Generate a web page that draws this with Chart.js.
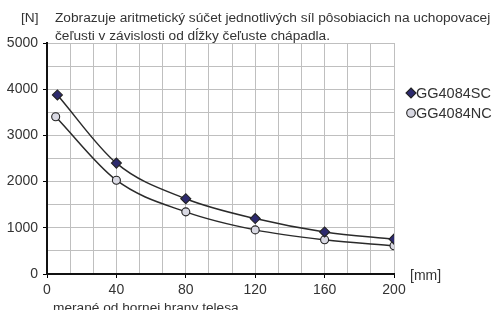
<!DOCTYPE html>
<html>
<head>
<meta charset="utf-8">
<script src="https://cdn.jsdelivr.net/npm/chart.js@4"></script>
<style>
  html, body { margin: 0; padding: 0; background: #fff; }
  #wrap { width: 497px; height: 310px; }
</style>
</head>
<body>
<div id="wrap"><canvas id="myChart" width="497" height="310"></canvas></div>
<script>
const scX = [6, 40, 80, 120, 160, 200];
const scValues = [3875, 2400, 1630, 1200, 910, 755];
const ncX = [5, 40, 80, 120, 160, 200];
const ncValues = [3405, 2030, 1345, 955, 740, 610];
const xTickLabels = [0, 40, 80, 120, 160, 200];
const yTickLabels = [0, 1000, 2000, 3000, 4000, 5000];
const seriesNames = ['GG4084SC', 'GG4084NC'];

const titleLines = [
    'Zobrazuje aritmetický súčet jednotlivých síl pôsobiacich na uchopovacej',
    'čeľusti v závislosti od dĺžky čeľuste chápadla.'
];

const FONT = '"Liberation Sans", Arial, sans-serif';
const TEXT = '#333';

function isLabel(list, v) {
    return list.some(t => Math.abs(t - v) < 1e-6);
}

const textPlugin = {
    id: 'texts',
    afterDraw(chart) {
        const ctx = chart.ctx;
        const a = chart.chartArea;
        ctx.save();
        ctx.fillStyle = TEXT;
        ctx.font = '13.7px ' + FONT;
        ctx.textBaseline = 'alphabetic';
        ctx.textAlign = 'left';
        ctx.fillText('[N]', 21, 22);
        ctx.fillText(titleLines[0], 55, 22);
        ctx.fillText(titleLines[1], 55, 40);
        ctx.font = '14px ' + FONT;
        ctx.fillText('[mm]', a.right + 16, a.bottom + 6);
        ctx.font = '13.7px ' + FONT;
        ctx.fillText('merané od hornej hrany telesa', 53, 312);

        // legend
        const lx = a.right + 17;
        const ly = [93, 113];
        chart.data.datasets.forEach((ds, i) => {
            ctx.beginPath();
            if (ds.pointStyle === 'rectRot') {
                const r = 5;
                ctx.moveTo(lx, ly[i] - r);
                ctx.lineTo(lx + r, ly[i]);
                ctx.lineTo(lx, ly[i] + r);
                ctx.lineTo(lx - r, ly[i]);
                ctx.closePath();
            } else {
                ctx.arc(lx, ly[i], 4.3, 0, Math.PI * 2);
            }
            ctx.fillStyle = ds.pointBackgroundColor;
            ctx.fill();
            ctx.lineWidth = 1.1;
            ctx.strokeStyle = '#222';
            ctx.stroke();
            ctx.fillStyle = TEXT;
            ctx.font = '14.5px ' + FONT;
            ctx.textBaseline = 'middle';
            ctx.fillText(ds.label, lx + 5, ly[i] + 1);
        });
        ctx.restore();
    }
};

const config = {
    type: 'line',
    data: {
        datasets: [{
            label: seriesNames[0],
            data: scX.map((x, i) => ({ x: x, y: scValues[i] })),
            borderColor: '#2a2a2a',
            borderWidth: 1.5,
            cubicInterpolationMode: 'monotone',
            pointStyle: 'rectRot',
            pointRadius: 5,
            pointBackgroundColor: '#2d2a6e',
            pointBorderColor: '#222',
            pointBorderWidth: 1.1
        }, {
            label: seriesNames[1],
            data: ncX.map((x, i) => ({ x: x, y: ncValues[i] })),
            borderColor: '#2a2a2a',
            borderWidth: 1.5,
            cubicInterpolationMode: 'monotone',
            pointStyle: 'circle',
            pointRadius: 4,
            pointBackgroundColor: '#d9d9e3',
            pointBorderColor: '#222',
            pointBorderWidth: 1.1
        }]
    },
    options: {
        responsive: false,
        animation: false,
        layout: { padding: { top: 43, right: 103, left: 0, bottom: 0 } },
        plugins: { legend: { display: false }, tooltip: { enabled: false } },
        scales: {
            x: {
                type: 'linear',
                min: 0,
                max: 200,
                afterFit: s => { s.height = 36; },
                afterBuildTicks: s => {
                    s.ticks = [];
                    for (let i = 0; i <= 15; i++) s.ticks.push({ value: i * 200 / 15 });
                },
                ticks: {
                    autoSkip: false,
                    maxRotation: 0,
                    color: TEXT,
                    font: { family: FONT, size: 14 },
                    padding: 4,
                    callback: v => isLabel(xTickLabels, v) ? String(Math.round(v)) : ''
                },
                grid: {
                    color: '#bfbfbf',
                    lineWidth: 1,
                    tickLength: 4,
                    tickColor: c => isLabel(xTickLabels, c.tick.value) ? '#000' : 'rgba(0,0,0,0)'
                },
                border: { color: '#111', width: 2 }
            },
            y: {
                min: 0,
                max: 5000,
                afterFit: s => { s.width = 47; },
                ticks: {
                    stepSize: 500,
                    autoSkip: false,
                    color: TEXT,
                    font: { family: FONT, size: 14 },
                    padding: 5,
                    callback: v => isLabel(yTickLabels, v) ? String(v) : ''
                },
                grid: {
                    color: '#bfbfbf',
                    lineWidth: 1,
                    tickLength: 4,
                    tickColor: c => isLabel(yTickLabels, c.tick.value) ? '#000' : 'rgba(0,0,0,0)'
                },
                border: { color: '#111', width: 2 }
            }
        }
    },
    plugins: [textPlugin]
};

const myChart = new Chart(document.getElementById('myChart'), config);
</script>
</body>
</html>
